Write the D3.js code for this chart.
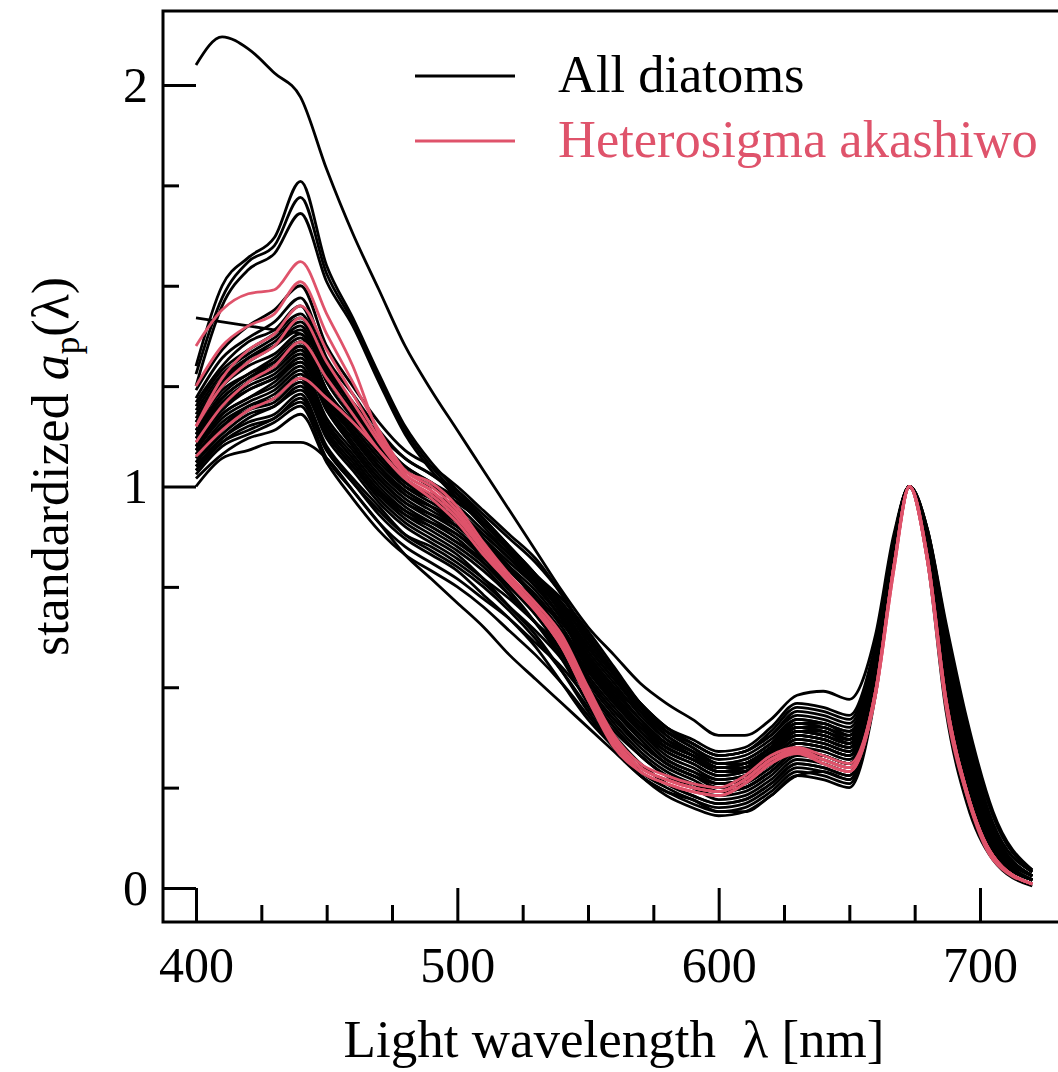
<!DOCTYPE html>
<html>
<head>
<meta charset="utf-8">
<script src="https://cdn.jsdelivr.net/npm/d3@7"></script>
<style>
  html, body { margin: 0; padding: 0; background: #fff; }
  svg { display: block; font-family: "Liberation Serif", "Times New Roman", serif; }
</style>
</head>
<body>
<div id="chart"></div>
<script>
const wavelengths = [400, 410, 420, 430, 440, 450, 460, 470, 480, 490, 500, 510, 520, 530, 540, 550, 560,
  570, 580, 590, 600, 610, 620, 630, 640, 650, 660, 667, 673, 680, 687, 695, 705, 720];

// standardized a_p(lambda) for all diatom samples
const diatomSpectra = [
  [2.05, 2.12, 2.09, 2.03, 1.97, 1.79, 1.63, 1.49, 1.35, 1.24, 1.14, 1.04, 0.94, 0.84, 0.74, 0.65, 0.58, 0.51, 0.46, 0.42, 0.38, 0.38, 0.42, 0.48, 0.49, 0.47, 0.63, 0.88, 1.0, 0.87, 0.60, 0.35, 0.14, 0.03],
  [1.42, 1.41, 1.40, 1.39, 1.38, 1.30, 1.20, 1.10, 1.02, 0.97, 0.91, 0.84, 0.77, 0.70, 0.63, 0.56, 0.48, 0.41, 0.36, 0.33, 0.29, 0.29, 0.33, 0.38, 0.37, 0.35, 0.56, 0.85, 1.0, 0.85, 0.53, 0.28, 0.10, 0.02],
  [1.00, 1.07, 1.09, 1.11, 1.11, 1.07, 0.99, 0.91, 0.83, 0.77, 0.71, 0.65, 0.58, 0.52, 0.46, 0.40, 0.34, 0.28, 0.24, 0.22, 0.19, 0.19, 0.23, 0.28, 0.29, 0.27, 0.49, 0.80, 1.0, 0.81, 0.44, 0.21, 0.07, 0.005],
  [1.30, 1.50, 1.57, 1.62, 1.76, 1.55, 1.42, 1.28, 1.15, 1.06, 0.99, 0.92, 0.85, 0.78, 0.72, 0.64, 0.55, 0.46, 0.39, 0.35, 0.31, 0.31, 0.35, 0.41, 0.41, 0.38, 0.58, 0.86, 1.0, 0.86, 0.55, 0.30, 0.11, 0.03],
  [1.28, 1.47, 1.56, 1.60, 1.72, 1.53, 1.41, 1.27, 1.14, 1.05, 0.98, 0.91, 0.84, 0.77, 0.71, 0.63, 0.54, 0.45, 0.38, 0.34, 0.30, 0.30, 0.34, 0.40, 0.40, 0.37, 0.57, 0.85, 1.0, 0.86, 0.56, 0.30, 0.11, 0.03],
  [1.25, 1.45, 1.54, 1.58, 1.68, 1.51, 1.40, 1.26, 1.13, 1.04, 0.97, 0.90, 0.83, 0.76, 0.70, 0.62, 0.53, 0.44, 0.37, 0.33, 0.29, 0.29, 0.33, 0.39, 0.39, 0.36, 0.56, 0.85, 1.0, 0.85, 0.55, 0.29, 0.10, 0.02],
  [1.24, 1.34, 1.40, 1.44, 1.50, 1.35, 1.25, 1.16, 1.09, 1.05, 1.00, 0.94, 0.88, 0.82, 0.73, 0.63, 0.54, 0.46, 0.40, 0.36, 0.33, 0.34, 0.38, 0.43, 0.42, 0.40, 0.58, 0.86, 1.0, 0.87, 0.60, 0.35, 0.14, 0.03],
  [1.22, 1.32, 1.37, 1.41, 1.47, 1.32, 1.23, 1.14, 1.07, 1.03, 0.98, 0.92, 0.85, 0.78, 0.69, 0.58, 0.50, 0.42, 0.36, 0.33, 0.30, 0.31, 0.35, 0.40, 0.39, 0.37, 0.55, 0.85, 1.0, 0.85, 0.54, 0.29, 0.10, 0.02],
  [1.21, 1.30, 1.36, 1.39, 1.45, 1.30, 1.20, 1.12, 1.05, 1.01, 0.96, 0.91, 0.84, 0.78, 0.70, 0.60, 0.52, 0.44, 0.38, 0.34, 0.31, 0.32, 0.36, 0.41, 0.40, 0.38, 0.56, 0.86, 1.0, 0.86, 0.57, 0.31, 0.12, 0.03],
  [1.19, 1.28, 1.33, 1.37, 1.42, 1.29, 1.20, 1.11, 1.05, 1.01, 0.97, 0.91, 0.84, 0.76, 0.67, 0.55, 0.47, 0.39, 0.33, 0.30, 0.27, 0.28, 0.32, 0.37, 0.36, 0.34, 0.53, 0.84, 1.0, 0.84, 0.52, 0.28, 0.10, 0.02],
  [1.17, 1.26, 1.31, 1.35, 1.40, 1.26, 1.17, 1.09, 1.02, 0.98, 0.94, 0.88, 0.82, 0.75, 0.67, 0.56, 0.48, 0.41, 0.35, 0.32, 0.29, 0.30, 0.34, 0.39, 0.38, 0.36, 0.55, 0.85, 1.0, 0.85, 0.55, 0.30, 0.11, 0.02],
  [1.16, 1.25, 1.30, 1.33, 1.38, 1.24, 1.15, 1.07, 1.00, 0.96, 0.92, 0.86, 0.79, 0.72, 0.63, 0.52, 0.44, 0.37, 0.31, 0.28, 0.25, 0.26, 0.30, 0.35, 0.34, 0.32, 0.52, 0.83, 1.0, 0.84, 0.51, 0.27, 0.09, 0.02],
  [1.15, 1.24, 1.28, 1.32, 1.37, 1.24, 1.16, 1.08, 1.01, 0.97, 0.93, 0.88, 0.82, 0.76, 0.69, 0.60, 0.52, 0.45, 0.39, 0.35, 0.32, 0.33, 0.37, 0.42, 0.41, 0.39, 0.57, 0.86, 1.0, 0.87, 0.62, 0.37, 0.15, 0.03],
  [1.14, 1.22, 1.27, 1.30, 1.35, 1.22, 1.13, 1.05, 0.98, 0.94, 0.90, 0.84, 0.77, 0.70, 0.61, 0.50, 0.42, 0.35, 0.30, 0.27, 0.24, 0.25, 0.29, 0.34, 0.33, 0.31, 0.51, 0.82, 1.0, 0.83, 0.50, 0.26, 0.09, 0.02],
  [1.13, 1.21, 1.26, 1.29, 1.34, 1.21, 1.13, 1.05, 0.99, 0.95, 0.91, 0.86, 0.80, 0.74, 0.66, 0.57, 0.49, 0.42, 0.36, 0.33, 0.30, 0.31, 0.35, 0.40, 0.39, 0.37, 0.56, 0.85, 1.0, 0.85, 0.55, 0.30, 0.11, 0.02],
  [1.12, 1.20, 1.25, 1.28, 1.33, 1.20, 1.11, 1.03, 0.97, 0.93, 0.89, 0.83, 0.76, 0.68, 0.59, 0.48, 0.40, 0.33, 0.28, 0.25, 0.22, 0.23, 0.27, 0.32, 0.31, 0.29, 0.50, 0.82, 1.0, 0.83, 0.51, 0.27, 0.09, 0.02],
  [1.11, 1.19, 1.24, 1.27, 1.32, 1.19, 1.10, 1.02, 0.96, 0.92, 0.88, 0.83, 0.77, 0.71, 0.63, 0.54, 0.46, 0.39, 0.34, 0.31, 0.28, 0.29, 0.33, 0.38, 0.37, 0.35, 0.54, 0.84, 1.0, 0.85, 0.54, 0.29, 0.10, 0.02],
  [1.10, 1.18, 1.22, 1.25, 1.30, 1.17, 1.09, 1.01, 0.95, 0.91, 0.87, 0.81, 0.74, 0.66, 0.57, 0.46, 0.38, 0.31, 0.26, 0.23, 0.21, 0.22, 0.26, 0.31, 0.30, 0.28, 0.50, 0.82, 1.0, 0.84, 0.52, 0.28, 0.10, 0.02],
  [1.09, 1.17, 1.21, 1.24, 1.29, 1.16, 1.08, 1.00, 0.94, 0.90, 0.86, 0.82, 0.77, 0.72, 0.66, 0.58, 0.50, 0.44, 0.39, 0.36, 0.33, 0.34, 0.39, 0.45, 0.44, 0.42, 0.60, 0.87, 1.0, 0.88, 0.64, 0.39, 0.16, 0.04],
  [1.08, 1.16, 1.20, 1.23, 1.28, 1.15, 1.07, 0.99, 0.93, 0.89, 0.85, 0.80, 0.73, 0.66, 0.58, 0.49, 0.41, 0.34, 0.29, 0.26, 0.24, 0.25, 0.29, 0.34, 0.33, 0.31, 0.52, 0.83, 1.0, 0.84, 0.53, 0.28, 0.10, 0.02],
  [1.07, 1.15, 1.19, 1.21, 1.26, 1.13, 1.05, 0.97, 0.91, 0.87, 0.83, 0.77, 0.70, 0.63, 0.54, 0.44, 0.36, 0.29, 0.25, 0.22, 0.20, 0.21, 0.25, 0.30, 0.29, 0.27, 0.49, 0.81, 1.0, 0.83, 0.50, 0.26, 0.09, 0.02],
  [1.06, 1.13, 1.18, 1.20, 1.25, 1.12, 1.04, 0.96, 0.90, 0.86, 0.82, 0.77, 0.72, 0.66, 0.60, 0.52, 0.44, 0.38, 0.32, 0.29, 0.27, 0.28, 0.32, 0.37, 0.36, 0.34, 0.54, 0.84, 1.0, 0.85, 0.55, 0.30, 0.11, 0.02],
  [1.05, 1.12, 1.16, 1.18, 1.23, 1.10, 1.02, 0.95, 0.88, 0.84, 0.80, 0.75, 0.69, 0.62, 0.54, 0.45, 0.37, 0.31, 0.26, 0.23, 0.21, 0.22, 0.26, 0.31, 0.30, 0.28, 0.50, 0.82, 1.0, 0.84, 0.52, 0.28, 0.10, 0.02],
  [1.04, 1.11, 1.15, 1.17, 1.22, 1.09, 1.01, 0.93, 0.87, 0.83, 0.79, 0.73, 0.67, 0.60, 0.51, 0.42, 0.35, 0.28, 0.24, 0.21, 0.19, 0.20, 0.24, 0.29, 0.28, 0.26, 0.49, 0.81, 1.0, 0.82, 0.47, 0.23, 0.08, 0.01],
  [1.03, 1.10, 1.13, 1.16, 1.20, 1.07, 0.99, 0.91, 0.85, 0.81, 0.77, 0.72, 0.67, 0.61, 0.55, 0.47, 0.39, 0.33, 0.28, 0.26, 0.24, 0.25, 0.29, 0.34, 0.33, 0.31, 0.52, 0.83, 1.0, 0.84, 0.53, 0.29, 0.10, 0.02],
  [1.02, 1.08, 1.12, 1.14, 1.18, 1.06, 0.97, 0.89, 0.83, 0.79, 0.75, 0.70, 0.64, 0.58, 0.51, 0.43, 0.35, 0.28, 0.23, 0.20, 0.18, 0.19, 0.23, 0.28, 0.27, 0.25, 0.48, 0.81, 1.0, 0.83, 0.50, 0.27, 0.09, 0.02],
  [1.20, 1.29, 1.34, 1.38, 1.43, 1.30, 1.21, 1.13, 1.07, 1.03, 0.99, 0.93, 0.87, 0.81, 0.73, 0.62, 0.54, 0.46, 0.40, 0.37, 0.34, 0.35, 0.40, 0.46, 0.45, 0.43, 0.61, 0.87, 1.0, 0.88, 0.63, 0.38, 0.16, 0.04],
  [1.13, 1.22, 1.27, 1.31, 1.36, 1.24, 1.15, 1.07, 1.01, 0.98, 0.95, 0.89, 0.83, 0.77, 0.69, 0.59, 0.51, 0.43, 0.37, 0.34, 0.31, 0.32, 0.36, 0.42, 0.41, 0.39, 0.57, 0.86, 1.0, 0.86, 0.56, 0.31, 0.12, 0.03],
  [1.09, 1.18, 1.22, 1.26, 1.31, 1.19, 1.10, 1.02, 0.96, 0.93, 0.90, 0.85, 0.79, 0.72, 0.64, 0.55, 0.47, 0.40, 0.35, 0.32, 0.29, 0.30, 0.34, 0.39, 0.38, 0.36, 0.55, 0.85, 1.0, 0.85, 0.55, 0.30, 0.11, 0.02],
  [1.06, 1.14, 1.19, 1.22, 1.27, 1.15, 1.07, 0.99, 0.94, 0.91, 0.88, 0.82, 0.75, 0.68, 0.60, 0.51, 0.43, 0.36, 0.31, 0.28, 0.26, 0.27, 0.31, 0.36, 0.35, 0.33, 0.53, 0.84, 1.0, 0.84, 0.53, 0.28, 0.10, 0.02],
  [1.18, 1.27, 1.32, 1.35, 1.39, 1.27, 1.18, 1.10, 1.04, 1.00, 0.96, 0.91, 0.85, 0.78, 0.71, 0.61, 0.53, 0.46, 0.40, 0.36, 0.33, 0.34, 0.38, 0.44, 0.43, 0.41, 0.59, 0.87, 1.0, 0.89, 0.65, 0.41, 0.18, 0.045],
  [1.12, 1.20, 1.24, 1.27, 1.31, 1.20, 1.12, 1.04, 0.98, 0.95, 0.92, 0.87, 0.81, 0.75, 0.67, 0.57, 0.49, 0.42, 0.36, 0.33, 0.30, 0.31, 0.35, 0.41, 0.40, 0.38, 0.57, 0.86, 1.0, 0.87, 0.60, 0.35, 0.14, 0.03],
  [1.08, 1.15, 1.20, 1.22, 1.27, 1.14, 1.06, 0.98, 0.92, 0.88, 0.84, 0.79, 0.73, 0.66, 0.59, 0.50, 0.42, 0.36, 0.31, 0.28, 0.26, 0.27, 0.31, 0.36, 0.35, 0.33, 0.54, 0.85, 1.0, 0.86, 0.58, 0.33, 0.13, 0.03],
  [1.05, 1.12, 1.17, 1.20, 1.24, 1.13, 1.05, 0.98, 0.93, 0.90, 0.86, 0.81, 0.75, 0.69, 0.62, 0.54, 0.46, 0.40, 0.35, 0.32, 0.29, 0.30, 0.34, 0.39, 0.38, 0.36, 0.56, 0.86, 1.0, 0.89, 0.66, 0.42, 0.19, 0.045],
  [1.16, 1.26, 1.32, 1.36, 1.41, 1.28, 1.19, 1.10, 1.04, 1.00, 0.97, 0.91, 0.84, 0.77, 0.68, 0.57, 0.48, 0.40, 0.34, 0.31, 0.28, 0.29, 0.33, 0.38, 0.37, 0.35, 0.54, 0.85, 1.0, 0.86, 0.59, 0.34, 0.13, 0.03],
  [1.10, 1.20, 1.26, 1.30, 1.35, 1.23, 1.14, 1.06, 1.00, 0.97, 0.93, 0.87, 0.80, 0.72, 0.63, 0.53, 0.45, 0.38, 0.32, 0.29, 0.26, 0.27, 0.31, 0.36, 0.35, 0.33, 0.53, 0.84, 1.0, 0.86, 0.58, 0.33, 0.13, 0.03],
  [1.04, 1.11, 1.14, 1.17, 1.21, 1.09, 1.01, 0.94, 0.88, 0.85, 0.81, 0.76, 0.70, 0.64, 0.57, 0.48, 0.40, 0.33, 0.28, 0.25, 0.23, 0.24, 0.28, 0.33, 0.32, 0.30, 0.52, 0.84, 1.0, 0.86, 0.59, 0.34, 0.14, 0.03],
  [1.14, 1.23, 1.28, 1.31, 1.36, 1.23, 1.13, 1.05, 0.99, 0.95, 0.90, 0.85, 0.79, 0.73, 0.65, 0.55, 0.47, 0.40, 0.35, 0.32, 0.30, 0.31, 0.35, 0.40, 0.39, 0.37, 0.56, 0.86, 1.0, 0.89, 0.64, 0.40, 0.18, 0.04]
];

// standardized a_p(lambda) for Heterosigma akashiwo
const heterosigmaSpectra = [
  [1.35, 1.44, 1.48, 1.49, 1.56, 1.43, 1.30, 1.13, 1.04, 1.01, 0.95, 0.86, 0.78, 0.71, 0.63, 0.50, 0.38, 0.31, 0.28, 0.26, 0.25, 0.28, 0.33, 0.35, 0.33, 0.31, 0.49, 0.80, 1.0, 0.82, 0.47, 0.24, 0.08, 0.01],
  [1.25, 1.35, 1.40, 1.43, 1.51, 1.38, 1.26, 1.14, 1.04, 1.00, 0.94, 0.85, 0.77, 0.70, 0.62, 0.49, 0.37, 0.30, 0.27, 0.25, 0.24, 0.27, 0.32, 0.345, 0.32, 0.30, 0.49, 0.80, 1.0, 0.82, 0.47, 0.24, 0.08, 0.01],
  [1.15, 1.27, 1.34, 1.38, 1.45, 1.34, 1.23, 1.12, 1.03, 0.99, 0.93, 0.84, 0.77, 0.70, 0.61, 0.48, 0.36, 0.30, 0.27, 0.25, 0.24, 0.27, 0.32, 0.34, 0.32, 0.30, 0.48, 0.80, 1.0, 0.81, 0.46, 0.24, 0.08, 0.01],
  [1.15, 1.25, 1.31, 1.35, 1.42, 1.31, 1.21, 1.11, 1.03, 0.99, 0.93, 0.85, 0.77, 0.70, 0.61, 0.48, 0.37, 0.30, 0.27, 0.25, 0.24, 0.27, 0.32, 0.345, 0.32, 0.30, 0.49, 0.80, 1.0, 0.82, 0.47, 0.24, 0.08, 0.01],
  [1.11, 1.20, 1.26, 1.30, 1.36, 1.27, 1.18, 1.09, 1.02, 0.98, 0.92, 0.84, 0.76, 0.69, 0.60, 0.47, 0.36, 0.29, 0.26, 0.24, 0.23, 0.26, 0.31, 0.34, 0.31, 0.29, 0.48, 0.79, 1.0, 0.81, 0.46, 0.23, 0.08, 0.01],
  [1.075, 1.14, 1.19, 1.22, 1.27, 1.22, 1.16, 1.09, 1.02, 0.97, 0.91, 0.83, 0.76, 0.69, 0.60, 0.47, 0.35, 0.29, 0.26, 0.24, 0.23, 0.26, 0.31, 0.335, 0.31, 0.29, 0.48, 0.79, 1.0, 0.81, 0.45, 0.23, 0.07, 0.01]
];

const xMajorTicks = [400, 500, 600, 700];
const xMinorTicks = [425, 450, 475, 525, 550, 575, 625, 650, 675];
const yMajorTicks = [0, 1, 2];
const yMinorTicks = [0.25, 0.5, 0.75, 1.25, 1.5, 1.75];
const seriesNames = ['All diatoms', 'Heterosigma akashiwo'];
const seriesColors = ['#000000', '#DF536B'];

const width = 1058;
const height = 1072;
// plot box (right edge runs off the canvas like the original figure)
const box = { left: 163, top: 11, right: 1064, bottom: 922 };

const svg = d3.select('#chart')
    .append('svg')
    .attr('width', width)
    .attr('height', height);

const x = d3.scaleLinear().domain([400, 700]).range([196, 980]);
const y = d3.scaleLinear().domain([0, 2]).range([888, 85]);

svg.append('defs').append('clipPath')
    .attr('id', 'plot-clip')
    .append('rect')
    .attr('x', box.left + 1)
    .attr('y', box.top + 1)
    .attr('width', box.right - box.left)
    .attr('height', box.bottom - box.top - 2);

const line = d3.line()
    .x((d, i) => x(wavelengths[i]))
    .y(d => y(d))
    .curve(d3.curveMonotoneX);

const curves = svg.append('g').attr('clip-path', 'url(#plot-clip)');

// diatoms first, Heterosigma drawn on top
curves.selectAll('path.diatom')
    .data(diatomSpectra)
    .enter()
    .append('path')
    .attr('class', 'diatom')
    .attr('fill', 'none')
    .attr('stroke', seriesColors[0])
    .attr('stroke-width', 2.8)
    .attr('stroke-linejoin', 'round')
    .attr('d', line);

curves.selectAll('path.hetero')
    .data(heterosigmaSpectra)
    .enter()
    .append('path')
    .attr('class', 'hetero')
    .attr('fill', 'none')
    .attr('stroke', seriesColors[1])
    .attr('stroke-width', 2.8)
    .attr('stroke-linejoin', 'round')
    .attr('d', line);

// axes: ticks point inward, the frame is drawn separately
function styleAxis(g) {
    g.select('.domain').remove();
    g.selectAll('line').attr('stroke', '#000').attr('stroke-width', 3);
    g.selectAll('text')
        .attr('fill', '#000')
        .style('font-family', '"Liberation Serif", "Times New Roman", serif')
        .style('font-size', '50px');
}

svg.append('g')
    .attr('transform', `translate(0,${box.bottom})`)
    .call(d3.axisBottom(x).tickValues(xMinorTicks).tickSize(-17).tickFormat(''))
    .call(styleAxis);

svg.append('g')
    .attr('transform', `translate(0,${box.bottom})`)
    .call(d3.axisBottom(x).tickValues(xMajorTicks).tickSize(-(box.bottom - y(0))).tickPadding(24).tickFormat(d3.format('d')))
    .call(styleAxis);

svg.append('g')
    .attr('transform', `translate(${box.left},0)`)
    .call(d3.axisLeft(y).tickValues(yMinorTicks).tickSize(-16).tickFormat(''))
    .call(styleAxis);

svg.append('g')
    .attr('transform', `translate(${box.left},0)`)
    .call(d3.axisLeft(y).tickValues(yMajorTicks).tickSize(-(x(400) - box.left)).tickPadding(15).tickFormat(d3.format('d')))
    .call(styleAxis);

svg.append('rect')
    .attr('x', box.left)
    .attr('y', box.top)
    .attr('width', box.right - box.left)
    .attr('height', box.bottom - box.top)
    .attr('fill', 'none')
    .attr('stroke', '#000')
    .attr('stroke-width', 3);

// axis titles
svg.append('text')
    .attr('x', 614)
    .attr('y', 1057)
    .attr('text-anchor', 'middle')
    .style('font-size', '53px')
    .text('Light wavelength \u00a0\u03bb [nm]');

const yTitle = svg.append('text')
    .attr('transform', `translate(68,${(box.top + box.bottom) / 2}) rotate(-90)`)
    .attr('text-anchor', 'middle')
    .style('font-size', '52px');
yTitle.append('tspan').text('standardized ');
yTitle.append('tspan').style('font-style', 'italic').text('a');
yTitle.append('tspan').attr('dy', 11).style('font-size', '35px').text('p');
yTitle.append('tspan').attr('dy', -11).text('(\u03bb)');

// legend
const legend = svg.append('g');
seriesNames.forEach((name, i) => {
    const ly = 76 + i * 65;
    legend.append('line')
        .attr('x1', 415).attr('x2', 515)
        .attr('y1', ly).attr('y2', ly)
        .attr('stroke', seriesColors[i])
        .attr('stroke-width', 2.8);
    legend.append('text')
        .attr('x', 558)
        .attr('y', ly + 16)
        .attr('fill', seriesColors[i])
        .style('font-size', '52.5px')
        .text(name);
});
</script>
</body>
</html>
